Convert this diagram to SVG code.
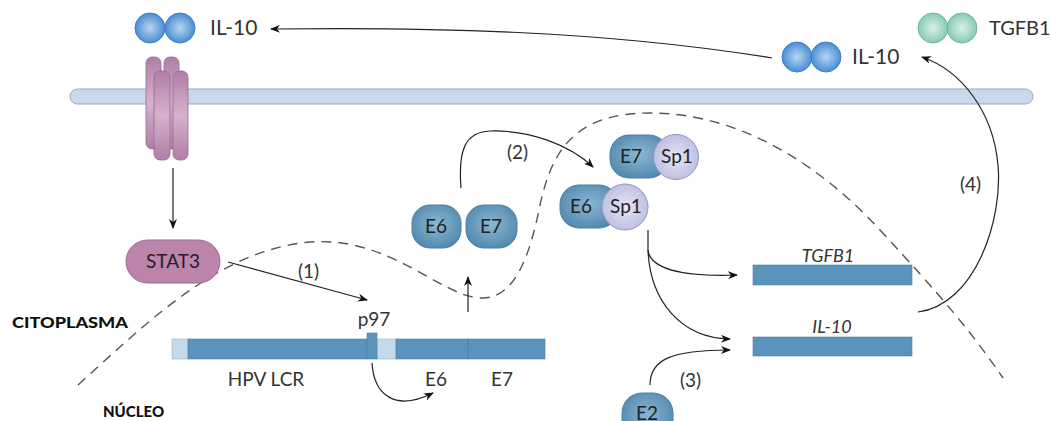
<svg xmlns="http://www.w3.org/2000/svg" width="1051" height="421" viewBox="0 0 1051 421">
  <style>
    .lbl { font-family: Lato, "Liberation Sans", sans-serif; fill: #333; }
    .node-t { font-family: Lato, "Liberation Sans", sans-serif; fill: #222; font-size: 19px; text-anchor: middle; }
    .gene-t { font-family: Lato, "Liberation Sans", sans-serif; fill: #333; font-size: 18px; font-style: italic; text-anchor: middle; }
    .region { font-family: Lato, "Liberation Sans", sans-serif; font-weight: 900; fill: #111; font-size: 15px; }
    .conn { fill: none; stroke: #222; stroke-width: 1.2; }
    .dash { fill: none; stroke: #555; stroke-width: 1.4; stroke-dasharray: 10 7; }
    .il10 { fill: url(#gIL); stroke: #3f7fc4; stroke-width: 1; }
    .tgf { fill: url(#gTG); stroke: #6fb79d; stroke-width: 1; }
    .hpv { fill: url(#gHPV); stroke: #4c7fa2; stroke-width: 1; }
    .sp1 { fill: url(#gSP); stroke: #9595c0; stroke-width: 1; }
    .rec { fill: url(#gREC); stroke: #9a6a8e; stroke-width: 0.8; }
    .dna { fill: #5a93bb; stroke: #4a7fa4; stroke-width: 0.6; }
    .dna-l { fill: #c6d9ea; stroke: #9ab3c8; stroke-width: 0.6; }
  </style>
  <defs>
    <radialGradient id="gIL" cx="0.5" cy="0.5" r="0.55">
      <stop offset="0" stop-color="#b7d6f2"/>
      <stop offset="1" stop-color="#3f86d0"/>
    </radialGradient>
    <radialGradient id="gTG" cx="0.5" cy="0.5" r="0.55">
      <stop offset="0" stop-color="#d9f1e7"/>
      <stop offset="1" stop-color="#80c6ac"/>
    </radialGradient>
    <radialGradient id="gHPV" cx="0.5" cy="0.45" r="0.6">
      <stop offset="0" stop-color="#8cb7d2"/>
      <stop offset="1" stop-color="#4f87ae"/>
    </radialGradient>
    <radialGradient id="gSP" cx="0.5" cy="0.5" r="0.6">
      <stop offset="0" stop-color="#e6e6f6"/>
      <stop offset="1" stop-color="#b8b8de"/>
    </radialGradient>
    <linearGradient id="gREC" x1="0" y1="0" x2="0" y2="1">
      <stop offset="0" stop-color="#b07ea6"/>
      <stop offset="0.5" stop-color="#d6b2cc"/>
      <stop offset="1" stop-color="#b07ea6"/>
    </linearGradient>
    <marker id="ah" viewBox="0 0 10 8" refX="9" refY="4" markerWidth="10" markerHeight="8" markerUnits="userSpaceOnUse" orient="auto">
      <path d="M0,0 L10,4 L0,8 L3,4 z" fill="#111"/>
    </marker>
  </defs>

  <!-- cell membrane -->
  <rect id="membrane" x="70" y="89" width="963" height="15" rx="7.5" fill="#c9d9eb" stroke="#93aac2" stroke-width="1"/>

  <!-- nuclear envelope (dashed) -->
  <path class="dash" d="M78,385 C150,320 220,250 310,242 C390,236 440,296 480,298 C515,300 530,255 540,205 C552,150 575,113 650,113 C740,113 820,165 880,230 S970,330 1003,378"/>

  <g id="region-labels">
    <text class="region" x="12" y="328" textLength="116" lengthAdjust="spacingAndGlyphs">CITOPLASMA</text>
    <text class="region" x="103" y="417">NÚCLEO</text>
  </g>

  <!-- secreted IL-10 (left) -->
  <g id="il10-left">
    <circle class="il10" cx="150" cy="28" r="15"/>
    <circle class="il10" cx="180" cy="28" r="15"/>
    <text class="lbl" x="210" y="35" font-size="21">IL-10</text>
  </g>

  <!-- secreted IL-10 (right) -->
  <g id="il10-right">
    <circle class="il10" cx="797" cy="57" r="15"/>
    <circle class="il10" cx="826" cy="57" r="15"/>
    <text class="lbl" x="852" y="64" font-size="21">IL-10</text>
  </g>

  <!-- secreted TGFB1 -->
  <g id="tgfb1-protein">
    <circle class="tgf" cx="933" cy="28" r="15"/>
    <circle class="tgf" cx="962" cy="28" r="15"/>
    <text class="lbl" x="989" y="35" font-size="20">TGFB1</text>
  </g>

  <!-- IL-10 receptor -->
  <g id="receptor">
    <rect class="rec" x="146" y="57" width="15" height="92" rx="6"/>
    <rect class="rec" x="164" y="57" width="15" height="92" rx="6"/>
    <rect class="rec" x="154" y="71" width="16" height="89" rx="6"/>
    <rect class="rec" x="173" y="71" width="15" height="89" rx="6"/>
  </g>

  <g id="stat3">
    <rect x="126" y="240" width="94" height="43" rx="21.5" fill="#bd84ab" stroke="#9d6a8d" stroke-width="1"/>
    <text class="node-t" x="173" y="268">STAT3</text>
  </g>

  <!-- HPV genome -->
  <g id="hpv-genome">
    <rect class="dna-l" x="172" y="339" width="16" height="20"/>
    <rect class="dna" x="188" y="339" width="179" height="20"/>
    <rect class="dna-l" x="377" y="339" width="19" height="20"/>
    <rect class="dna" x="396" y="339" width="72" height="20"/>
    <rect class="dna" x="468" y="339" width="77" height="20"/>
    <rect class="dna" x="367" y="333" width="10" height="26"/>
    <text class="lbl" x="374" y="326" font-size="19" text-anchor="middle">p97</text>
    <text class="lbl" x="266" y="386" font-size="19" text-anchor="middle">HPV LCR</text>
    <text class="lbl" x="436" y="386" font-size="19" text-anchor="middle">E6</text>
    <text class="lbl" x="502" y="386" font-size="19" text-anchor="middle">E7</text>
  </g>

  <g id="e6-e7">
    <rect class="hpv" x="412" y="205" width="49" height="43" rx="18"/>
    <text class="node-t" x="436" y="233">E6</text>
    <rect class="hpv" x="466" y="205" width="51" height="43" rx="18"/>
    <text class="node-t" x="491" y="233">E7</text>
  </g>

  <g id="e7-sp1">
    <rect class="hpv" x="610" y="135" width="58" height="43" rx="19"/>
    <text class="node-t" x="631" y="163">E7</text>
    <circle class="sp1" cx="676" cy="157" r="22.5"/>
    <text class="node-t" x="677" y="163">Sp1</text>
  </g>

  <g id="e6-sp1">
    <rect class="hpv" x="560" y="185" width="58" height="43" rx="19"/>
    <text class="node-t" x="581" y="213">E6</text>
    <circle class="sp1" cx="625" cy="207" r="23"/>
    <text class="node-t" x="626" y="213">Sp1</text>
  </g>

  <g id="e2">
    <rect class="hpv" x="622" y="393" width="51" height="50" rx="20"/>
    <text class="node-t" x="647" y="420">E2</text>
  </g>

  <!-- host genes -->
  <g id="tgfb1-gene">
    <rect class="dna" x="753" y="265" width="159" height="20"/>
    <text class="gene-t" x="828" y="262">TGFB1</text>
  </g>
  <g id="il10-gene">
    <rect class="dna" x="753" y="337" width="159" height="19"/>
    <text class="gene-t" x="832" y="333">IL-10</text>
  </g>

  <!-- connectors -->
  <g id="connectors">
    <path class="conn" marker-end="url(#ah)" d="M772,58 C600,30 420,27 271,29"/>
    <path class="conn" marker-end="url(#ah)" stroke="#777" d="M173,168 L173,228"/>
    <path class="conn" marker-end="url(#ah)" d="M228,262 L367,300"/>
    <path class="conn" marker-end="url(#ah)" d="M468,312 L468,277"/>
    <path class="conn" marker-end="url(#ah)" d="M372,363 C374,395 395,412 433,393"/>
    <path class="conn" marker-end="url(#ah)" d="M461,188 C458,150 465,132 490,131 C530,130 570,145 593,167"/>
    <path class="conn" d="M648,230 L648,250"/>
    <path class="conn" marker-end="url(#ah)" d="M648,250 C650,268 680,277 737,275"/>
    <path class="conn" marker-end="url(#ah)" d="M648,250 C650,300 680,338 730,339"/>
    <path class="conn" marker-end="url(#ah)" d="M650,385 C650,360 670,350 730,350"/>
    <path class="conn" marker-end="url(#ah)" d="M918,312 C975,305 1003,220 998,165 C993,110 960,70 922,57"/>
  </g>

  <g id="step-labels">
    <text class="lbl" x="298" y="278" font-size="19">(1)</text>
    <text class="lbl" x="507" y="159" font-size="19">(2)</text>
    <text class="lbl" x="680" y="387" font-size="19">(3)</text>
    <text class="lbl" x="960" y="191" font-size="19">(4)</text>
  </g>
</svg>
